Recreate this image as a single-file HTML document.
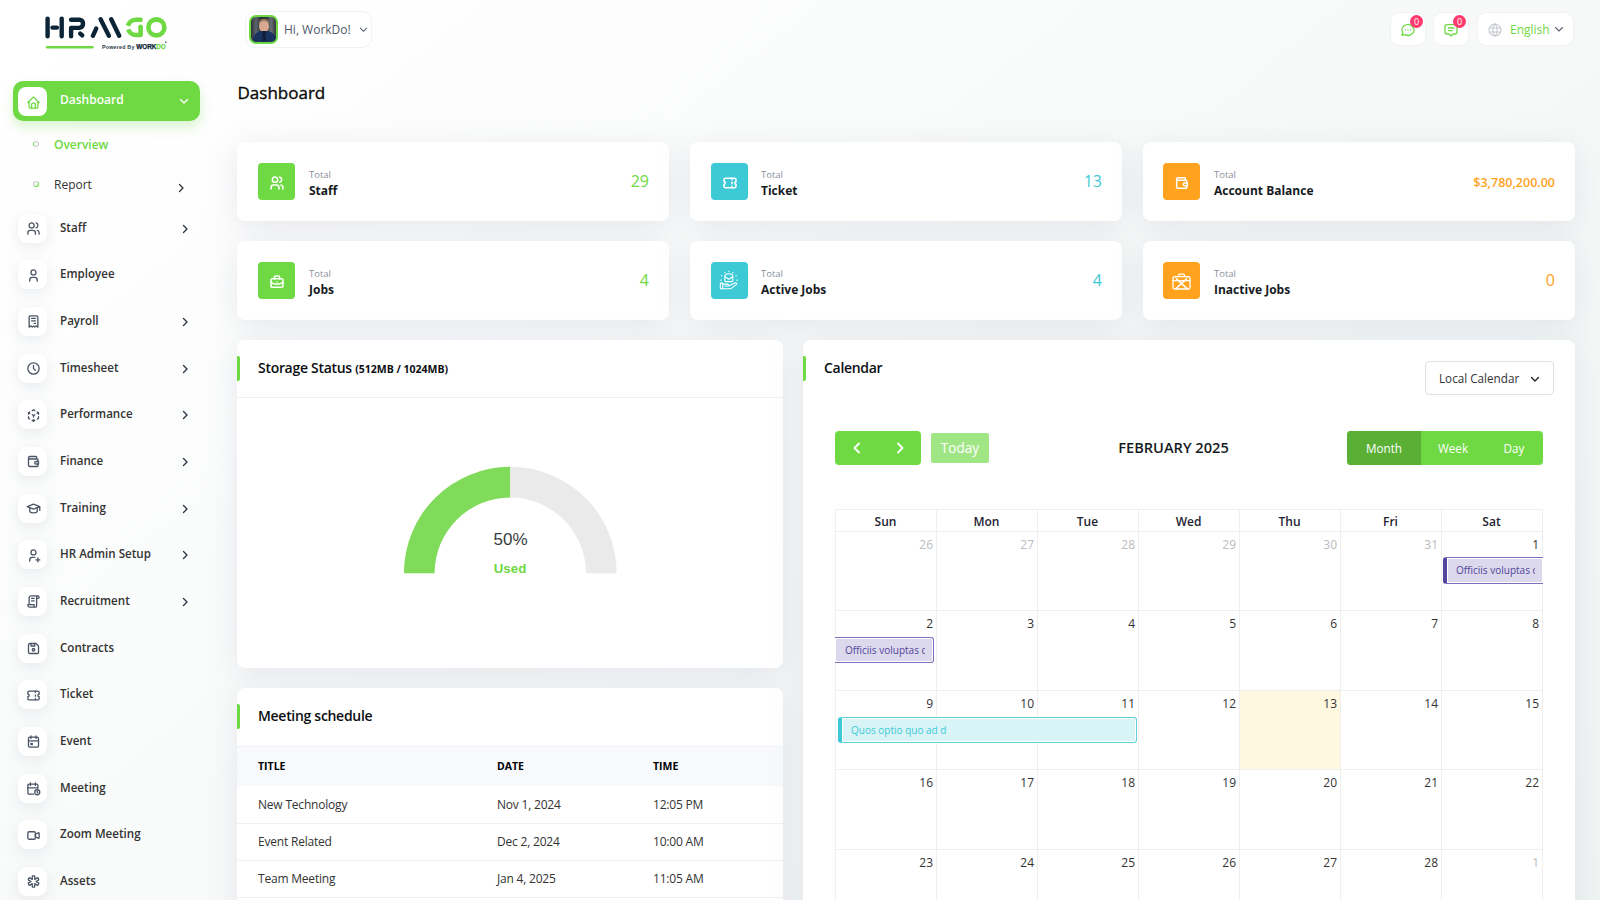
<!DOCTYPE html>
<html lang="en"><head><meta charset="utf-8"><title>Dashboard</title>
<style>
*{box-sizing:border-box;margin:0;padding:0}
html,body{width:1600px;height:900px;overflow:hidden}
body{font-family:"Open Sans","Liberation Sans",sans-serif;color:#293240;position:relative;background:linear-gradient(141.55deg,#ffffff 3.46%,#f0f4f3 99.86%)}
.abs{position:absolute}
/* sidebar */
.nav-dash{position:absolute;left:13px;top:81px;width:187px;height:40px;border-radius:10px;background:#6fd943;box-shadow:0 6px 12px rgba(111,217,67,.25)}
.nav-dash .ib{position:absolute;left:5px;top:6px;width:29px;height:29px;border-radius:8px;background:#fff;display:flex;align-items:center;justify-content:center}
.nav-dash .t{position:absolute;left:47px;top:10px;font-size:12px;font-weight:600;color:#fff;line-height:18px}
.nav-dash .chev{position:absolute;left:166px;top:15px}
.sub{position:absolute;left:54px;font-size:12px;line-height:16px}
.sub.act{color:#6fd943;font-weight:600}
.sub.rep{color:#333}
.dot{position:absolute;left:33px;width:6px;height:6px;border-radius:50%;border:1.3px solid #b9bec6}
.nav{position:absolute;left:18px;width:190px;height:30px}
.nav .ib{position:absolute;left:0;top:0;width:29px;height:29px;border-radius:9px;background:#fff;box-shadow:0 4px 14px rgba(180,186,200,.28);display:flex;align-items:center;justify-content:center}
.nav .t{position:absolute;left:42px;top:6px;font-size:11.6px;font-weight:600;color:#333;line-height:16px;white-space:nowrap}
.nav .ar{position:absolute;left:162px;top:10px}
.ico{width:15px;height:15px;margin:1px 0 0 1px;fill:none;stroke:#4b5565;stroke-width:2.1;stroke-linecap:round;stroke-linejoin:round}
/* header */
.userbox{position:absolute;left:245px;top:11px;width:127px;height:37px;border-radius:10px;background:#fff;border:1px solid #f1f2f3}
.hbox{position:absolute;top:12px;height:34px;border-radius:9px;background:#fff;border:1px solid #f1f2f3}
.badge{position:absolute;width:13px;height:13px;border-radius:50%;background:#ff3a6e;color:#fff;font-size:9px;line-height:13px;text-align:center}
/* cards */
.card{position:absolute;background:#fff;border-radius:8px;box-shadow:0 6px 30px rgba(182,186,203,.3)}
.stat .ib{position:absolute;left:20px;top:20.5px;width:37px;height:37px;border-radius:4px;display:flex;align-items:center;justify-content:center}
.stat .lbl{position:absolute;left:71px;top:27px;font-size:9.5px;color:#8a8f99;line-height:12px}
.stat .nm{position:absolute;left:71px;top:41px;font-size:12px;font-weight:700;color:#161b22;line-height:16px;white-space:nowrap}
.stat .num{position:absolute;right:20px;top:28px;font-size:16px;line-height:22px}
.g{background:#6fd943;left:21px!important}.c1 .lbl,.c1 .nm{left:72px}.c{background:#3ec9d6;left:21px!important}.o{background:#ffa21d;left:20px!important}
.wi{width:16px;height:16px;margin-top:3px;fill:none;stroke:#fff;stroke-width:2.3;stroke-linecap:round;stroke-linejoin:round}
.chd{position:absolute;left:0;top:0;right:0;height:58px;border-bottom:1px solid #f1f1f1}
.chd .bar{position:absolute;left:0;top:16px;width:3px;height:25px;background:#6fd943;border-radius:0 2px 2px 0}
.chd h5{position:absolute;left:21px;top:18px;font-size:14px;letter-spacing:-.3px;font-weight:600;color:#0b0e12;line-height:20px;white-space:nowrap}
.th{position:absolute;top:71px;font-size:10.5px;font-weight:700;color:#000;line-height:14px}
.tr{position:absolute;left:0;right:0;height:37px;border-bottom:1px solid #f1f1f1}
.tr span{position:absolute;top:9px;font-size:12px;letter-spacing:-.2px;color:#333;line-height:17px;white-space:nowrap}
.sel{position:absolute;left:622px;top:21px;width:129px;height:34px;border:1px solid #dcdfe4;border-radius:4px;background:#fff}
.sel span{position:absolute;left:13px;top:7px;font-size:11.7px;color:#333;line-height:18px}
.btng{background:#6fd943}
.gl{background:#efefef}
.dh{text-align:center;font-size:12px;font-weight:600;color:#1d2433;line-height:16px}
.dn{text-align:right;font-size:12px;color:#333;line-height:17px}
.dn.om{color:#b9bcc0}
.ev{font-size:10px;line-height:24px;white-space:nowrap;box-shadow:inset 0 0 0 1px #fff}
.ev span{display:block;overflow:hidden}
.evp{background:#dcd9ec;border:1.5px solid #7a6fc2;color:#51459d}
.evc{background:#d9f4f7;border:1.5px solid #5fd0da;color:#3ec9d6}
</style></head>
<body>
<!-- LOGO -->
<svg class="abs" style="left:0;top:0" width="180" height="60" viewBox="0 0 180 60">
 <g fill="none" stroke="#0b2436" stroke-width="4.4" stroke-linecap="round" stroke-linejoin="round">
  <path d="M47.6 18.6V36.2M61.7 18.6V36.2M52.5 27.6H56.9"/>
  <path d="M71.1 36.2V27.9H79.5A4.15 4.15 0 0 0 79.5 19.7H71.1"/>
  <path d="M80.2 33.6L82.2 35.3"/>
  <path d="M96.2 28.6L92.9 35.8M100.6 19.3L108.9 35.8M111.2 19.3L119.2 35.8"/>
 </g>
 <g fill="none" stroke="#6fd943" stroke-width="4.6">
  <path d="M140.6 19.7H136A8.3 8.3 0 0 0 128 25.8"/>
  <path d="M128.3 29.3A8 8 0 0 0 136 35H140.6V26.7" stroke-linejoin="round"/>
  <circle cx="140.6" cy="19.7" r="2.3" fill="#6fd943" stroke="none"/><circle cx="140.6" cy="26.7" r="2.3" fill="#6fd943" stroke="none"/>
  <circle cx="156.4" cy="27.4" r="8"/>
 </g>
 <path d="M47 47.2H92.5" stroke="#6fd943" stroke-width="2.4" stroke-linecap="round"/>
 <text x="102" y="48.6" font-family="Liberation Sans,Arial,sans-serif" font-size="5.3" font-weight="700" fill="#2a3a48" letter-spacing=".62" textLength="33" lengthAdjust="spacing">Powered By</text><text x="136.3" y="48.8" font-family="Liberation Sans,Arial,sans-serif" font-size="6.4" font-weight="700" fill="#0b2436" stroke="#0b2436" stroke-width=".25" textLength="29.5" lengthAdjust="spacing">WORK<tspan fill="#6fd943" stroke="#6fd943">DO</tspan></text><circle cx="165.8" cy="42.3" r=".7" fill="#0b2436"/>
</svg>

<!-- SIDEBAR -->
<div class="nav-dash">
 <div class="ib"><svg class="ico" style="stroke:#6fd943;width:15px;height:15px;margin:2px 0 0 1px" viewBox="0 0 24 24"><path d="M5 12H3l9-9 9 9h-2"/><path d="M5 12v7a2 2 0 0 0 2 2h10a2 2 0 0 0 2-2v-7"/><path d="M9 21v-6a2 2 0 0 1 2-2h2a2 2 0 0 1 2 2v6"/></svg></div>
 <div class="t">Dashboard</div>
 <svg class="chev" width="10" height="10" viewBox="0 0 10 10"><path d="M1.5 3.5L5 7l3.5-3.5" fill="none" stroke="#fff" stroke-width="1.3" stroke-linecap="round" stroke-linejoin="round"/></svg>
</div>
<div class="dot" style="top:141px;border-color:#c9cdd6;border-left-color:#6fd943"></div>
<div class="sub act" style="top:137px">Overview</div>
<div class="dot" style="top:181px;border-color:#c9cdd6;border-bottom-color:#6fd943;border-right-color:#6fd943"></div>
<div class="sub rep" style="top:177px">Report</div>
<svg class="abs" style="left:176px;top:182.5px" width="10" height="10" viewBox="0 0 10 10"><path d="M3.5 1.5L7 5 3.5 8.5" fill="none" stroke="#333" stroke-width="1.3" stroke-linecap="round" stroke-linejoin="round"/></svg>

<div id="navlist">
<div class="nav" style="top:213.50px"><div class="ib"><svg class="ico" viewBox="0 0 24 24"><path d="M9 7m-4 0a4 4 0 1 0 8 0a4 4 0 1 0 -8 0"/><path d="M3 21v-2a4 4 0 0 1 4 -4h4a4 4 0 0 1 4 4v2"/><path d="M16 3.13a4 4 0 0 1 0 7.75"/><path d="M21 21v-2a4 4 0 0 0 -3 -3.85"/></svg></div><div class="t">Staff</div><svg class="ar" width="10" height="10" viewBox="0 0 10 10"><path d="M3.5 1.5L7 5 3.5 8.5" fill="none" stroke="#293240" stroke-width="1.3" stroke-linecap="round" stroke-linejoin="round"/></svg></div>
<div class="nav" style="top:260.17px"><div class="ib"><svg class="ico" viewBox="0 0 24 24"><path d="M8 7a4 4 0 1 0 8 0a4 4 0 0 0 -8 0"/><path d="M6 21v-2a4 4 0 0 1 4 -4h4a4 4 0 0 1 4 4v2"/></svg></div><div class="t">Employee</div></div>
<div class="nav" style="top:306.84px"><div class="ib"><svg class="ico" viewBox="0 0 24 24"><path d="M5 21v-16a2 2 0 0 1 2 -2h10a2 2 0 0 1 2 2v16l-3 -2l-2 2l-2 -2l-2 2l-2 -2l-3 2m4 -14h6m-6 4h6m-2 4h2"/></svg></div><div class="t">Payroll</div><svg class="ar" width="10" height="10" viewBox="0 0 10 10"><path d="M3.5 1.5L7 5 3.5 8.5" fill="none" stroke="#293240" stroke-width="1.3" stroke-linecap="round" stroke-linejoin="round"/></svg></div>
<div class="nav" style="top:353.51px"><div class="ib"><svg class="ico" viewBox="0 0 24 24"><path d="M3 12a9 9 0 1 0 18 0a9 9 0 0 0 -18 0"/><path d="M12 7v5l3 3"/></svg></div><div class="t">Timesheet</div><svg class="ar" width="10" height="10" viewBox="0 0 10 10"><path d="M3.5 1.5L7 5 3.5 8.5" fill="none" stroke="#293240" stroke-width="1.3" stroke-linecap="round" stroke-linejoin="round"/></svg></div>
<div class="nav" style="top:400.18px"><div class="ib"><svg class="ico" viewBox="0 0 24 24"><path d="M6 17.6l-2 -1.1v-2.5"/><path d="M4 10v-2.5l2 -1.1"/><path d="M10 4.1l2 -1.1l2 1.1"/><path d="M18 6.4l2 1.1v2.5"/><path d="M20 14v2.5l-2 1.12"/><path d="M14 19.9l-2 1.1l-2 -1.1"/><path d="M12 12l2 -1.1"/><path d="M18 8.6l2 -1.1"/><path d="M12 12l0 2.5"/><path d="M12 18.5l0 2.5"/><path d="M12 12l-2 -1.12"/><path d="M6 8.6l-2 -1.1"/></svg></div><div class="t">Performance</div><svg class="ar" width="10" height="10" viewBox="0 0 10 10"><path d="M3.5 1.5L7 5 3.5 8.5" fill="none" stroke="#293240" stroke-width="1.3" stroke-linecap="round" stroke-linejoin="round"/></svg></div>
<div class="nav" style="top:446.85px"><div class="ib"><svg class="ico" viewBox="0 0 24 24"><path d="M17 8v-3a1 1 0 0 0 -1 -1h-10a2 2 0 0 0 0 4h12a1 1 0 0 1 1 1v3m0 4v3a1 1 0 0 1 -1 1h-12a2 2 0 0 1 -2 -2v-12"/><path d="M20 12v4h-4a2 2 0 0 1 0 -4h4"/></svg></div><div class="t">Finance</div><svg class="ar" width="10" height="10" viewBox="0 0 10 10"><path d="M3.5 1.5L7 5 3.5 8.5" fill="none" stroke="#293240" stroke-width="1.3" stroke-linecap="round" stroke-linejoin="round"/></svg></div>
<div class="nav" style="top:493.52px"><div class="ib"><svg class="ico" viewBox="0 0 24 24"><path d="M22 9l-10 -4l-10 4l10 4l10 -4v6"/><path d="M6 10.6v5.4a6 3 0 0 0 12 0v-5.4"/></svg></div><div class="t">Training</div><svg class="ar" width="10" height="10" viewBox="0 0 10 10"><path d="M3.5 1.5L7 5 3.5 8.5" fill="none" stroke="#293240" stroke-width="1.3" stroke-linecap="round" stroke-linejoin="round"/></svg></div>
<div class="nav" style="top:540.19px"><div class="ib"><svg class="ico" viewBox="0 0 24 24"><path d="M8 7a4 4 0 1 0 8 0a4 4 0 0 0 -8 0"/><path d="M16 19h6"/><path d="M19 16v6"/><path d="M6 21v-2a4 4 0 0 1 4 -4h4"/></svg></div><div class="t">HR Admin Setup</div><svg class="ar" width="10" height="10" viewBox="0 0 10 10"><path d="M3.5 1.5L7 5 3.5 8.5" fill="none" stroke="#293240" stroke-width="1.3" stroke-linecap="round" stroke-linejoin="round"/></svg></div>
<div class="nav" style="top:586.86px"><div class="ib"><svg class="ico" viewBox="0 0 24 24"><path d="M15 21h-9a3 3 0 0 1 -3 -3v-1h10v2a2 2 0 0 0 4 0v-14a2 2 0 1 1 2 2h-2m2 -4h-11a3 3 0 0 0 -3 3v11"/><path d="M9 7l4 0"/><path d="M9 11l4 0"/></svg></div><div class="t">Recruitment</div><svg class="ar" width="10" height="10" viewBox="0 0 10 10"><path d="M3.5 1.5L7 5 3.5 8.5" fill="none" stroke="#293240" stroke-width="1.3" stroke-linecap="round" stroke-linejoin="round"/></svg></div>
<div class="nav" style="top:633.53px"><div class="ib"><svg class="ico" viewBox="0 0 24 24"><path d="M6 4h10l4 4v10a2 2 0 0 1 -2 2h-12a2 2 0 0 1 -2 -2v-12a2 2 0 0 1 2 -2"/><path d="M12 14m-2 0a2 2 0 1 0 4 0a2 2 0 1 0 -4 0"/><path d="M14 4l0 4l-6 0l0 -4"/></svg></div><div class="t">Contracts</div></div>
<div class="nav" style="top:680.20px"><div class="ib"><svg class="ico" viewBox="0 0 24 24"><path d="M15 5l0 2"/><path d="M15 11l0 2"/><path d="M15 17l0 2"/><path d="M5 5h14a2 2 0 0 1 2 2v3a2 2 0 0 0 0 4v3a2 2 0 0 1 -2 2h-14a2 2 0 0 1 -2 -2v-3a2 2 0 0 0 0 -4v-3a2 2 0 0 1 2 -2"/></svg></div><div class="t">Ticket</div></div>
<div class="nav" style="top:726.87px"><div class="ib"><svg class="ico" viewBox="0 0 24 24"><path d="M4 7a2 2 0 0 1 2 -2h12a2 2 0 0 1 2 2v12a2 2 0 0 1 -2 2h-12a2 2 0 0 1 -2 -2z"/><path d="M16 3l0 4"/><path d="M8 3l0 4"/><path d="M4 11l16 0"/><path d="M8 15h2v2h-2z"/></svg></div><div class="t">Event</div></div>
<div class="nav" style="top:773.54px"><div class="ib"><svg class="ico" viewBox="0 0 24 24"><path d="M11.795 21h-6.795a2 2 0 0 1 -2 -2v-12a2 2 0 0 1 2 -2h12a2 2 0 0 1 2 2v4"/><path d="M18 18m-4 0a4 4 0 1 0 8 0a4 4 0 1 0 -8 0"/><path d="M15 3v4"/><path d="M7 3v4"/><path d="M3 11h16"/><path d="M18 16.496v1.504l1 1"/></svg></div><div class="t">Meeting</div></div>
<div class="nav" style="top:820.21px"><div class="ib"><svg class="ico" viewBox="0 0 24 24"><path d="M15 10l4.553 -2.276a1 1 0 0 1 1.447 .894v6.764a1 1 0 0 1 -1.447 .894l-4.553 -2.276v-4z"/><path d="M3 8a2 2 0 0 1 2 -2h8a2 2 0 0 1 2 2v8a2 2 0 0 1 -2 2h-8a2 2 0 0 1 -2 -2z"/></svg></div><div class="t">Zoom Meeting</div></div>
<div class="nav" style="top:866.88px"><div class="ib"><svg class="ico" viewBox="0 0 24 24"><path d="M13 3a1 1 0 0 1 1 1v4.535l3.928 -2.267a1 1 0 0 1 1.366 .366l1 1.732a1 1 0 0 1 -.366 1.366l-3.927 2.268l3.927 2.269a1 1 0 0 1 .366 1.366l-1 1.732a1 1 0 0 1 -1.366 .366l-3.928 -2.269v4.536a1 1 0 0 1 -1 1h-2a1 1 0 0 1 -1 -1v-4.536l-3.928 2.268a1 1 0 0 1 -1.366 -.366l-1 -1.732a1 1 0 0 1 .366 -1.366l3.927 -2.268l-3.927 -2.268a1 1 0 0 1 -.366 -1.366l1 -1.732a1 1 0 0 1 1.366 -.366l3.928 2.267v-4.535a1 1 0 0 1 1 -1h2z"/></svg></div><div class="t">Assets</div></div>
</div><!--/navlist-->

<!-- HEADER -->
<div class="userbox">
 <div class="abs" style="left:3px;top:3px;width:29px;height:29px;border-radius:7px;border:2px solid #6fd943;background:linear-gradient(90deg,#2c3238 0%,#5d646b 20%,#2e343a 38%,#2e343a 62%,#6a7076 80%,#30363c 100%);overflow:hidden">
  <div class="abs" style="left:8px;top:2px;width:10px;height:6px;border-radius:5px 5px 2px 2px;background:#9c7a5e"></div>
  <div class="abs" style="left:8px;top:4px;width:10px;height:11px;border-radius:50%;background:#d8a88f"></div>
  <div class="abs" style="left:2px;top:14px;width:23px;height:14px;border-radius:9px 9px 0 0;background:#1a3260"></div>
  <div class="abs" style="left:11px;top:14px;width:4px;height:10px;background:#11213f"></div>
 </div>
 <div class="abs" style="left:38px;top:9px;font-size:12px;line-height:17px;color:#4f5a68;white-space:nowrap">Hi, WorkDo!</div>
 <svg class="abs" style="left:113px;top:13px" width="9" height="9" viewBox="0 0 10 10"><path d="M1.5 3.5L5 7l3.5-3.5" fill="none" stroke="#5b6472" stroke-width="1.2" stroke-linecap="round" stroke-linejoin="round"/></svg>
</div>

<!-- header right -->
<div class="hbox" style="left:1390px;width:36px">
 <svg class="abs" style="left:9px;top:9px" width="16" height="16" viewBox="0 0 24 24" fill="none" stroke="#6fd943" stroke-width="2" stroke-linecap="round" stroke-linejoin="round"><path d="M3 20l1.3 -3.9c-2.324 -3.437 -1.426 -7.872 2.1 -10.374c3.526 -2.501 8.59 -2.296 11.845 .48c3.255 2.777 3.695 7.266 1.029 10.501c-2.666 3.235 -7.615 4.215 -11.574 2.293l-4.7 1"/><path d="M12 12v.01"/><path d="M8 12v.01"/><path d="M16 12v.01"/></svg>
 <div class="badge" style="left:19px;top:2px">0</div>
</div>
<div class="hbox" style="left:1433px;width:36px">
 <svg class="abs" style="left:9px;top:9px" width="16" height="16" viewBox="0 0 24 24" fill="none" stroke="#6fd943" stroke-width="2" stroke-linecap="round" stroke-linejoin="round"><path d="M8 9h8"/><path d="M8 13h6"/><path d="M9 18h-3a3 3 0 0 1 -3 -3v-8a3 3 0 0 1 3 -3h12a3 3 0 0 1 3 3v8a3 3 0 0 1 -3 3h-3l-3 3l-3 -3z"/></svg>
 <div class="badge" style="left:19px;top:2px">0</div>
</div>
<div class="hbox" style="left:1477px;width:97px">
 <svg class="abs" style="left:9px;top:9px" width="16" height="16" viewBox="0 0 24 24" fill="none" stroke="#c4c8ce" stroke-width="1.6" stroke-linecap="round" stroke-linejoin="round"><path d="M3 12a9 9 0 1 0 18 0a9 9 0 0 0 -18 0"/><path d="M3.6 9h16.8"/><path d="M3.6 15h16.8"/><path d="M11.5 3a17 17 0 0 0 0 18"/><path d="M12.5 3a17 17 0 0 1 0 18"/></svg>
 <div class="abs" style="left:32px;top:8px;font-size:12px;line-height:17px;color:#6fd943">English</div>
 <svg class="abs" style="left:76px;top:11px" width="10" height="10" viewBox="0 0 10 10"><path d="M1.5 3.5L5 7l3.5-3.5" fill="none" stroke="#5b6472" stroke-width="1.1" stroke-linecap="round" stroke-linejoin="round"/></svg>
</div>

<div class="abs" style="left:237.5px;top:81px;font-size:17px;line-height:24px;color:#0a0a0a;-webkit-text-stroke:.35px #0a0a0a">Dashboard</div>

<!-- STAT CARDS -->
<div class="card stat c1" style="left:237px;top:142px;width:432px;height:79px">
 <div class="ib g"><svg class="wi" viewBox="0 0 24 24"><path d="M9 7m-4 0a4 4 0 1 0 8 0a4 4 0 1 0 -8 0"/><path d="M3 21v-2a4 4 0 0 1 4 -4h4a4 4 0 0 1 4 4v2"/><path d="M16 3.13a4 4 0 0 1 0 7.75"/><path d="M21 21v-2a4 4 0 0 0 -3 -3.85"/></svg></div>
 <div class="lbl">Total</div><div class="nm">Staff</div><div class="num" style="color:#6fd943">29</div>
</div>
<div class="card stat" style="left:690px;top:142px;width:432px;height:79px">
 <div class="ib c"><svg class="wi" viewBox="0 0 24 24"><path d="M15 5l0 2"/><path d="M15 11l0 2"/><path d="M15 17l0 2"/><path d="M5 5h14a2 2 0 0 1 2 2v3a2 2 0 0 0 0 4v3a2 2 0 0 1 -2 2h-14a2 2 0 0 1 -2 -2v-3a2 2 0 0 0 0 -4v-3a2 2 0 0 1 2 -2"/></svg></div>
 <div class="lbl">Total</div><div class="nm">Ticket</div><div class="num" style="color:#3ec9d6">13</div>
</div>
<div class="card stat" style="left:1143px;top:142px;width:432px;height:79px">
 <div class="ib o"><svg class="wi" viewBox="0 0 24 24"><path d="M17 8v-3a1 1 0 0 0 -1 -1h-10a2 2 0 0 0 0 4h12a1 1 0 0 1 1 1v3m0 4v3a1 1 0 0 1 -1 1h-12a2 2 0 0 1 -2 -2v-12"/><path d="M20 12v4h-4a2 2 0 0 1 0 -4h4"/></svg></div>
 <div class="lbl">Total</div><div class="nm">Account Balance</div><div class="num" style="color:#ffa21d;font-size:12.5px;font-weight:600;top:30px">$3,780,200.00</div>
</div>
<div class="card stat c1" style="left:237px;top:241px;width:432px;height:79px">
 <div class="ib g"><svg class="wi" viewBox="0 0 24 24"><path d="M3 9a2 2 0 0 1 2 -2h14a2 2 0 0 1 2 2v9a2 2 0 0 1 -2 2h-14a2 2 0 0 1 -2 -2z"/><path d="M8 7v-2a2 2 0 0 1 2 -2h4a2 2 0 0 1 2 2v2"/><path d="M12 12l0 .01"/><path d="M3 13a20 20 0 0 0 18 0"/></svg></div>
 <div class="lbl">Total</div><div class="nm">Jobs</div><div class="num" style="color:#6fd943">4</div>
</div>
<div class="card stat" style="left:690px;top:241px;width:432px;height:79px">
 <div class="ib c"><svg width="38" height="38" viewBox="0 0 38 38" fill="none" stroke="#fff" stroke-width="1.1" stroke-linecap="round" stroke-linejoin="round"><path d="M14.2 15.2c0-1.6 1.2-2.6 4.1-2.6s4.1 1 4.1 2.6v4.3c0 .7-.5 1.2-1.2 1.2h-5.8c-.7 0-1.2-.5-1.2-1.2z"/><path d="M14.3 15.6l4 2.6l4-2.6"/><path d="M9.6 22.2h2.4v5.8h-2.4z"/><path d="M12 23.2h4.6c1.3 0 1.9 1 1.2 1.9h-3.4M17.8 25.1l6.6-3c1.5-.7 2.7.4 1.8 1.4l-4.6 3.6c-.7.5-1.4.8-2.4.8H12"/><g stroke-width="1.3"><path d="M18.3 10.2v.1M14.3 11.4v.1M22.5 11.4v.1M11 14.6v.1M25.8 14.6v.1M10.1 19.2h.4M26.6 19.2h.4"/></g></svg></div>
 <div class="lbl">Total</div><div class="nm">Active Jobs</div><div class="num" style="color:#3ec9d6">4</div>
</div>
<div class="card stat" style="left:1143px;top:241px;width:432px;height:79px">
 <div class="ib o"><svg width="37" height="37" viewBox="0 0 37 37" fill="none" stroke="#fff" stroke-width="1.3" stroke-linecap="round" stroke-linejoin="round"><path d="M15.5 14.6v-1.3c0-.7.5-1.2 1.2-1.2h3.6c.7 0 1.2.5 1.2 1.2v1.3"/><path d="M11.5 14.6h14c.9 0 1.5.6 1.5 1.5v9.4c0 .9-.6 1.5-1.5 1.5h-14c-.9 0-1.5-.6-1.5-1.5v-9.4c0-.9.6-1.5 1.5-1.5z"/><path d="M10 18.6h17"/><path d="M13.2 16.6l10.6 9.8M23.8 16.6l-10.6 9.8" stroke-width="1.5"/></svg></div>
 <div class="lbl">Total</div><div class="nm">Inactive Jobs</div><div class="num" style="color:#ffa21d">0</div>
</div>

<!-- STORAGE -->
<div class="card" style="left:237px;top:340px;width:546px;height:328px">
 <div class="chd"><div class="bar"></div><h5>Storage Status <span style="font-size:10.5px;font-weight:700;letter-spacing:0">(512MB / 1024MB)</span></h5></div>
 <svg class="abs" style="left:0;top:0" width="546" height="328" viewBox="237 340 546 328">
  <path d="M403.9 573.2A106.4 106.4 0 0 1 510.3 466.8V497.5A75.7 75.7 0 0 0 434.6 573.2Z" fill="#80db5a"/>
  <path d="M510.3 466.8A106.4 106.4 0 0 1 616.7 573.2H586.0A75.7 75.7 0 0 0 510.3 497.5Z" fill="#eaeaea"/>
  <text x="510.5" y="545" text-anchor="middle" font-family="Liberation Sans,Arial,sans-serif" font-size="17" fill="#373d3f">50%</text>
  <text x="510" y="573" text-anchor="middle" font-family="Liberation Sans,Arial,sans-serif" font-size="13.3" font-weight="700" fill="#6fd943">Used</text>
 </svg>
</div>

<!-- MEETING -->
<div class="card" style="left:237px;top:688px;width:546px;height:240px;overflow:hidden">
 <div class="chd" style="border:0"><div class="bar"></div><h5>Meeting schedule</h5></div>
 <div class="abs" style="left:0;right:0;top:58px;height:40px;background:#f8f9fd;border-top:1px solid #f1f2f4"></div>
 <div class="th" style="left:21px">TITLE</div><div class="th" style="left:260px">DATE</div><div class="th" style="left:416px">TIME</div>
 <div class="tr" style="top:99px"><span style="left:21px">New Technology</span><span style="left:260px">Nov 1, 2024</span><span style="left:416px">12:05 PM</span></div>
 <div class="tr" style="top:136px"><span style="left:21px">Event Related</span><span style="left:260px">Dec 2, 2024</span><span style="left:416px">10:00 AM</span></div>
 <div class="tr" style="top:173px"><span style="left:21px">Team Meeting</span><span style="left:260px">Jan 4, 2025</span><span style="left:416px">11:05 AM</span></div>
</div>

<!-- CALENDAR -->
<div class="card" style="left:803px;top:340px;width:772px;height:600px;overflow:hidden">
 <div class="chd" style="border:0"><div class="bar"></div><h5>Calendar</h5></div>
 <div class="sel"><span>Local Calendar</span><svg class="abs" style="left:104px;top:12px" width="10" height="10" viewBox="0 0 10 10"><path d="M1.5 3.5L5 7l3.5-3.5" fill="none" stroke="#222" stroke-width="1.4" stroke-linecap="round" stroke-linejoin="round"/></svg></div>
 <div class="abs btng" style="left:32px;top:91px;width:86px;height:34px;border-radius:4px">
  <svg class="abs" style="left:16px;top:11px" width="12" height="12" viewBox="0 0 12 12"><path d="M8 1.5L3.5 6 8 10.5" fill="none" stroke="#fff" stroke-width="1.9" stroke-linecap="round" stroke-linejoin="round"/></svg>
  <svg class="abs" style="left:58.5px;top:11px" width="12" height="12" viewBox="0 0 12 12"><path d="M4 1.5L8.5 6 4 10.5" fill="none" stroke="#fff" stroke-width="1.9" stroke-linecap="round" stroke-linejoin="round"/></svg>
 </div>
 <div class="abs" style="left:128px;top:93px;width:58px;height:30px;background:#a1e685;border-radius:2px;color:#fff;font-size:13.6px;line-height:30px;text-align:center">Today</div>
 <div class="abs" style="left:270px;top:96px;width:201px;text-align:center;font-size:14.6px;font-weight:600;color:#161b22;line-height:22px">FEBRUARY 2025</div>
 <div class="abs btng" style="left:544px;top:91px;width:196px;height:34px;border-radius:4px;overflow:hidden;font-size:11.7px;color:#fff;line-height:34px">
  <div class="abs" style="left:0;top:0;width:74px;height:34px;background:#59b035;text-align:center">Month</div>
  <div class="abs" style="left:74px;top:0;width:64px;height:34px;text-align:center">Week</div>
  <div class="abs" style="left:138px;top:0;width:58px;height:34px;text-align:center">Day</div>
 </div>
 <div id="calgrid">
<div class="abs" style="left:437px;top:351px;width:100px;height:78px;background:#fff8e0"></div>
<div class="abs gl" style="left:32px;top:169px;width:1px;height:419px"></div>
<div class="abs gl" style="left:133px;top:169px;width:1px;height:419px"></div>
<div class="abs gl" style="left:234px;top:169px;width:1px;height:419px"></div>
<div class="abs gl" style="left:335px;top:169px;width:1px;height:419px"></div>
<div class="abs gl" style="left:436px;top:169px;width:1px;height:419px"></div>
<div class="abs gl" style="left:537px;top:169px;width:1px;height:419px"></div>
<div class="abs gl" style="left:638px;top:169px;width:1px;height:419px"></div>
<div class="abs gl" style="left:739px;top:169px;width:1px;height:419px"></div>
<div class="abs gl" style="left:32px;top:169px;width:708px;height:1px"></div>
<div class="abs gl" style="left:32px;top:191px;width:708px;height:1px"></div>
<div class="abs gl" style="left:32px;top:270px;width:708px;height:1px"></div>
<div class="abs gl" style="left:32px;top:350px;width:708px;height:1px"></div>
<div class="abs gl" style="left:32px;top:429px;width:708px;height:1px"></div>
<div class="abs gl" style="left:32px;top:509px;width:708px;height:1px"></div>
<div class="abs gl" style="left:32px;top:588px;width:708px;height:1px"></div>
<div class="abs dh" style="left:32px;top:173.5px;width:101px">Sun</div>
<div class="abs dh" style="left:133px;top:173.5px;width:101px">Mon</div>
<div class="abs dh" style="left:234px;top:173.5px;width:101px">Tue</div>
<div class="abs dh" style="left:335px;top:173.5px;width:101px">Wed</div>
<div class="abs dh" style="left:436px;top:173.5px;width:101px">Thu</div>
<div class="abs dh" style="left:537px;top:173.5px;width:101px">Fri</div>
<div class="abs dh" style="left:638px;top:173.5px;width:101px">Sat</div>
<div class="abs dn om" style="left:32px;top:196px;width:98px">26</div>
<div class="abs dn om" style="left:133px;top:196px;width:98px">27</div>
<div class="abs dn om" style="left:234px;top:196px;width:98px">28</div>
<div class="abs dn om" style="left:335px;top:196px;width:98px">29</div>
<div class="abs dn om" style="left:436px;top:196px;width:98px">30</div>
<div class="abs dn om" style="left:537px;top:196px;width:98px">31</div>
<div class="abs dn" style="left:638px;top:196px;width:98px">1</div>
<div class="abs dn" style="left:32px;top:275px;width:98px">2</div>
<div class="abs dn" style="left:133px;top:275px;width:98px">3</div>
<div class="abs dn" style="left:234px;top:275px;width:98px">4</div>
<div class="abs dn" style="left:335px;top:275px;width:98px">5</div>
<div class="abs dn" style="left:436px;top:275px;width:98px">6</div>
<div class="abs dn" style="left:537px;top:275px;width:98px">7</div>
<div class="abs dn" style="left:638px;top:275px;width:98px">8</div>
<div class="abs dn" style="left:32px;top:355px;width:98px">9</div>
<div class="abs dn" style="left:133px;top:355px;width:98px">10</div>
<div class="abs dn" style="left:234px;top:355px;width:98px">11</div>
<div class="abs dn" style="left:335px;top:355px;width:98px">12</div>
<div class="abs dn" style="left:436px;top:355px;width:98px">13</div>
<div class="abs dn" style="left:537px;top:355px;width:98px">14</div>
<div class="abs dn" style="left:638px;top:355px;width:98px">15</div>
<div class="abs dn" style="left:32px;top:434px;width:98px">16</div>
<div class="abs dn" style="left:133px;top:434px;width:98px">17</div>
<div class="abs dn" style="left:234px;top:434px;width:98px">18</div>
<div class="abs dn" style="left:335px;top:434px;width:98px">19</div>
<div class="abs dn" style="left:436px;top:434px;width:98px">20</div>
<div class="abs dn" style="left:537px;top:434px;width:98px">21</div>
<div class="abs dn" style="left:638px;top:434px;width:98px">22</div>
<div class="abs dn" style="left:32px;top:514px;width:98px">23</div>
<div class="abs dn" style="left:133px;top:514px;width:98px">24</div>
<div class="abs dn" style="left:234px;top:514px;width:98px">25</div>
<div class="abs dn" style="left:335px;top:514px;width:98px">26</div>
<div class="abs dn" style="left:436px;top:514px;width:98px">27</div>
<div class="abs dn" style="left:537px;top:514px;width:98px">28</div>
<div class="abs dn om" style="left:638px;top:514px;width:98px">1</div>
<div class="abs ev evp" style="left:640px;top:217px;width:100px;height:27px;border-left:4px solid #51459d;border-right:0;border-radius:3px 0 0 3px;padding-left:9px;padding-right:8px"><span>Officiis voluptas c</span></div>
<div class="abs ev evp" style="left:32px;top:297px;width:99px;height:26px;border-left:0;border-radius:0 3px 3px 0;padding-left:10px;padding-right:8px"><span>Officiis voluptas c</span></div>
<div class="abs ev evc" style="left:35px;top:377px;width:299px;height:26px;border-left:4px solid #3ec9d6;border-radius:3px;padding-left:9px"><span>Quos optio quo ad d</span></div>
</div><!--/calgrid-->
</div>
</body></html>
